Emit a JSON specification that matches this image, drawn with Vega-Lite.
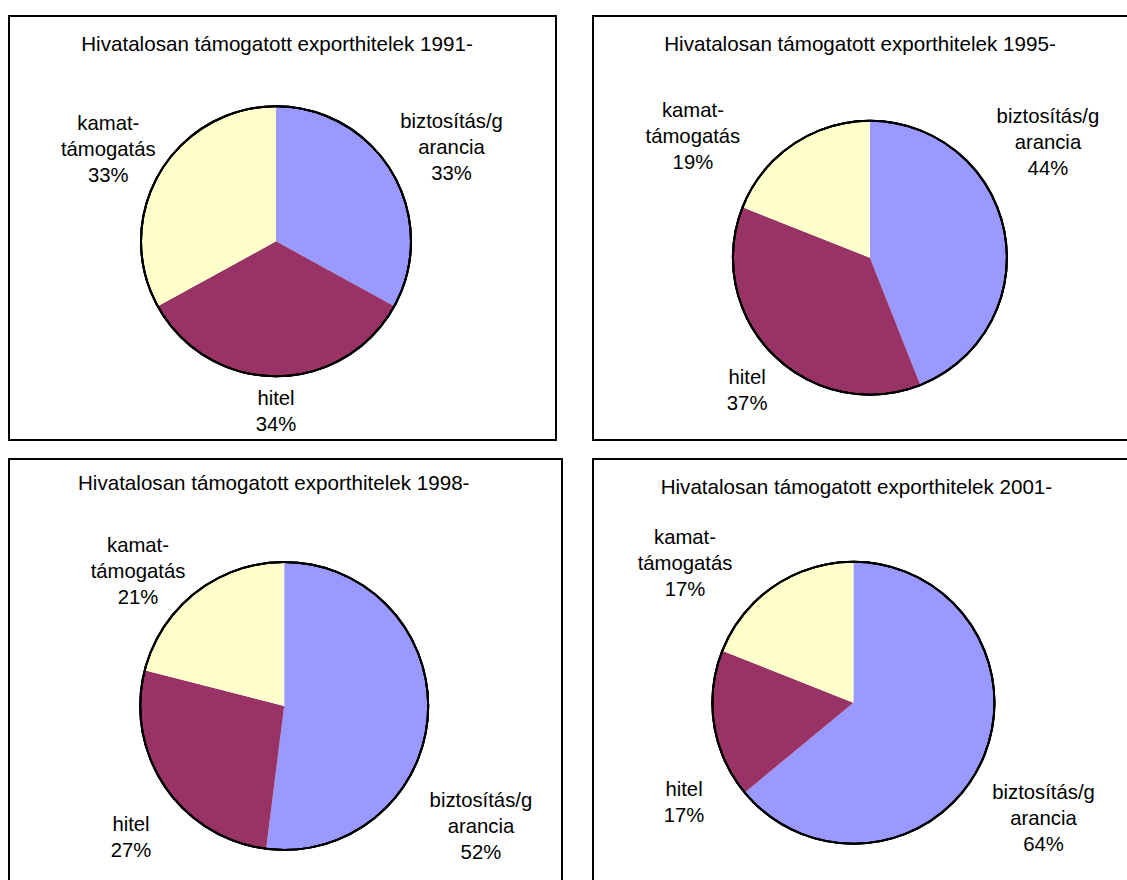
{
  "$schema": "https://vega.github.io/schema/vega-lite/v6.json",
  "background": "white",
  "padding": {"left": 8, "top": 15, "right": 0, "bottom": 0},
  "bounds": "flush",
  "columns": 2,
  "spacing": {"row": 19, "column": 31},
  "config": {
    "view": {"stroke": "black", "strokeWidth": 2},
    "title": {"font": "Liberation Sans", "fontSize": 20.6, "fontWeight": "normal", "color": "black", "anchor": "middle", "baseline": "middle", "frame": "group"},
    "text": {"font": "Liberation Sans", "fontSize": 20.3, "color": "black", "lineBreak": "\n", "lineHeight": 26, "align": "center", "baseline": "middle"},
    "arc": {"stroke": null}
  },
  "datasets": {
    "pies": [
      {"year": "1991", "cat": "biztosítás/garancia", "value": 33, "label": "biztosítás/g\narancia\n33%"},
      {"year": "1991", "cat": "hitel", "value": 34, "label": "hitel\n34%"},
      {"year": "1991", "cat": "kamattámogatás", "value": 33, "label": "kamat-\ntámogatás\n33%"},
      {"year": "1995", "cat": "biztosítás/garancia", "value": 44, "label": "biztosítás/g\narancia\n44%"},
      {"year": "1995", "cat": "hitel", "value": 37, "label": "hitel\n37%"},
      {"year": "1995", "cat": "kamattámogatás", "value": 19, "label": "kamat-\ntámogatás\n19%"},
      {"year": "1998", "cat": "biztosítás/garancia", "value": 52, "label": "biztosítás/g\narancia\n52%"},
      {"year": "1998", "cat": "hitel", "value": 27, "label": "hitel\n27%"},
      {"year": "1998", "cat": "kamattámogatás", "value": 21, "label": "kamat-\ntámogatás\n21%"},
      {"year": "2001", "cat": "biztosítás/garancia", "value": 64, "label": "biztosítás/g\narancia\n64%"},
      {"year": "2001", "cat": "hitel", "value": 17, "label": "hitel\n17%"},
      {"year": "2001", "cat": "kamattámogatás", "value": 19, "label": "kamat-\ntámogatás\n17%"}
    ]
  },
  "concat": [
    {
      "width": 547, "height": 424,
      "title": {"text": "Hivatalosan támogatott exporthitelek 1991-", "offset": -40, "dx": -5.5},
      "data": {"name": "pies"},
      "transform": [{"filter": "datum.year === '1991'"}],
      "encoding": {
        "x": {"datum": 0, "type": "quantitative", "scale": {"domain": [-1, 1]}, "axis": null},
        "y": {"datum": 0, "type": "quantitative", "scale": {"domain": [-1, 1]}, "axis": null}
      },
      "layer": [
        {"mark": {"type": "arc", "outerRadius": 135, "xOffset": -6.5, "yOffset": 13.3},
         "encoding": {"theta": {"field": "value", "type": "quantitative", "stack": true},
                      "order": {"field": "cat"},
                      "color": {"field": "cat", "type": "nominal", "legend": null, "scale": {"domain": ["biztosítás/garancia", "hitel", "kamattámogatás"], "range": ["#9999FF", "#993366", "#FFFFCC"]}}}},
        {"mark": {"type": "arc", "outerRadius": 135, "filled": false, "stroke": "black", "strokeWidth": 2, "xOffset": -6.5, "yOffset": 13.3}},
        {"mark": {"type": "text", "radius": 199, "thetaOffset": 0.044, "dy": -26, "xOffset": -6.5, "yOffset": 13.3},
         "encoding": {"theta": {"field": "value", "type": "quantitative", "stack": true}, "order": {"field": "cat"}, "detail": {"field": "cat"},
                      "text": {"condition": {"test": "datum.cat === 'biztosítás/garancia'", "field": "label"}, "value": ""}}},
        {"mark": {"type": "text", "radius": 171, "thetaOffset": 0, "dy": -13, "xOffset": -6.5, "yOffset": 13.3},
         "encoding": {"theta": {"field": "value", "type": "quantitative", "stack": true}, "order": {"field": "cat"}, "detail": {"field": "cat"},
                      "text": {"condition": {"test": "datum.cat === 'hitel'", "field": "label"}, "value": ""}}},
        {"mark": {"type": "text", "radius": 191, "thetaOffset": -0.035, "dy": -26, "xOffset": -6.5, "yOffset": 13.3},
         "encoding": {"theta": {"field": "value", "type": "quantitative", "stack": true}, "order": {"field": "cat"}, "detail": {"field": "cat"},
                      "text": {"condition": {"test": "datum.cat === 'kamattámogatás'", "field": "label"}, "value": ""}}}
      ]
    },
    {
      "width": 547, "height": 424,
      "title": {"text": "Hivatalosan támogatott exporthitelek 1995-", "offset": -40, "dx": -6.5},
      "data": {"name": "pies"},
      "transform": [{"filter": "datum.year === '1995'"}],
      "encoding": {
        "x": {"datum": 0, "type": "quantitative", "scale": {"domain": [-1, 1]}, "axis": null},
        "y": {"datum": 0, "type": "quantitative", "scale": {"domain": [-1, 1]}, "axis": null}
      },
      "layer": [
        {"mark": {"type": "arc", "outerRadius": 137, "xOffset": 3.4, "yOffset": 29.7},
         "encoding": {"theta": {"field": "value", "type": "quantitative", "stack": true},
                      "order": {"field": "cat"},
                      "color": {"field": "cat", "type": "nominal", "legend": null, "scale": {"domain": ["biztosítás/garancia", "hitel", "kamattámogatás"], "range": ["#9999FF", "#993366", "#FFFFCC"]}}}},
        {"mark": {"type": "arc", "outerRadius": 137, "filled": false, "stroke": "black", "strokeWidth": 2, "xOffset": 3.4, "yOffset": 29.7}},
        {"mark": {"type": "text", "radius": 211.5, "thetaOffset": -0.382, "dy": -26, "xOffset": 3.4, "yOffset": 29.7},
         "encoding": {"theta": {"field": "value", "type": "quantitative", "stack": true}, "order": {"field": "cat"}, "detail": {"field": "cat"},
                      "text": {"condition": {"test": "datum.cat === 'biztosítás/garancia'", "field": "label"}, "value": ""}}},
        {"mark": {"type": "text", "radius": 181, "thetaOffset": -0.04, "dy": -13, "xOffset": 3.4, "yOffset": 29.7},
         "encoding": {"theta": {"field": "value", "type": "quantitative", "stack": true}, "order": {"field": "cat"}, "detail": {"field": "cat"},
                      "text": {"condition": {"test": "datum.cat === 'hitel'", "field": "label"}, "value": ""}}},
        {"mark": {"type": "text", "radius": 214, "thetaOffset": -0.377, "dy": -26, "xOffset": 3.4, "yOffset": 29.7},
         "encoding": {"theta": {"field": "value", "type": "quantitative", "stack": true}, "order": {"field": "cat"}, "detail": {"field": "cat"},
                      "text": {"condition": {"test": "datum.cat === 'kamattámogatás'", "field": "label"}, "value": ""}}}
      ]
    },
    {
      "width": 553, "height": 424,
      "title": {"text": "Hivatalosan támogatott exporthitelek 1998-", "offset": -52, "dx": -11.8},
      "data": {"name": "pies"},
      "transform": [{"filter": "datum.year === '1998'"}],
      "encoding": {
        "x": {"datum": 0, "type": "quantitative", "scale": {"domain": [-1, 1]}, "axis": null},
        "y": {"datum": 0, "type": "quantitative", "scale": {"domain": [-1, 1]}, "axis": null}
      },
      "layer": [
        {"mark": {"type": "arc", "outerRadius": 144, "xOffset": -1.3, "yOffset": 35},
         "encoding": {"theta": {"field": "value", "type": "quantitative", "stack": true},
                      "order": {"field": "cat"},
                      "color": {"field": "cat", "type": "nominal", "legend": null, "scale": {"domain": ["biztosítás/garancia", "hitel", "kamattámogatás"], "range": ["#9999FF", "#993366", "#FFFFCC"]}}}},
        {"mark": {"type": "arc", "outerRadius": 144, "filled": false, "stroke": "black", "strokeWidth": 2, "xOffset": -1.3, "yOffset": 35}},
        {"mark": {"type": "text", "radius": 231, "thetaOffset": 0.489, "dy": -26, "xOffset": -1.3, "yOffset": 35},
         "encoding": {"theta": {"field": "value", "type": "quantitative", "stack": true}, "order": {"field": "cat"}, "detail": {"field": "cat"},
                      "text": {"condition": {"test": "datum.cat === 'biztosítás/garancia'", "field": "label"}, "value": ""}}},
        {"mark": {"type": "text", "radius": 202, "thetaOffset": -0.113, "dy": -13, "xOffset": -1.3, "yOffset": 35},
         "encoding": {"theta": {"field": "value", "type": "quantitative", "stack": true}, "order": {"field": "cat"}, "detail": {"field": "cat"},
                      "text": {"condition": {"test": "datum.cat === 'hitel'", "field": "label"}, "value": ""}}},
        {"mark": {"type": "text", "radius": 198, "thetaOffset": -0.171, "dy": -26, "xOffset": -1.3, "yOffset": 35},
         "encoding": {"theta": {"field": "value", "type": "quantitative", "stack": true}, "order": {"field": "cat"}, "detail": {"field": "cat"},
                      "text": {"condition": {"test": "datum.cat === 'kamattámogatás'", "field": "label"}, "value": ""}}}
      ]
    },
    {
      "width": 547, "height": 424,
      "title": {"text": "Hivatalosan támogatott exporthitelek 2001-", "offset": -40, "dx": -10.1},
      "data": {"name": "pies"},
      "transform": [{"filter": "datum.year === '2001'"}],
      "encoding": {
        "x": {"datum": 0, "type": "quantitative", "scale": {"domain": [-1, 1]}, "axis": null},
        "y": {"datum": 0, "type": "quantitative", "scale": {"domain": [-1, 1]}, "axis": null}
      },
      "layer": [
        {"mark": {"type": "arc", "outerRadius": 141, "xOffset": -13.1, "yOffset": 31.7},
         "encoding": {"theta": {"field": "value", "type": "quantitative", "stack": true},
                      "order": {"field": "cat"},
                      "color": {"field": "cat", "type": "nominal", "legend": null, "scale": {"domain": ["biztosítás/garancia", "hitel", "kamattámogatás"], "range": ["#9999FF", "#993366", "#FFFFCC"]}}}},
        {"mark": {"type": "arc", "outerRadius": 141, "filled": false, "stroke": "black", "strokeWidth": 2, "xOffset": -13.1, "yOffset": 31.7}},
        {"mark": {"type": "text", "radius": 223, "thetaOffset": 0.11, "dy": -26, "xOffset": -13.1, "yOffset": 31.7},
         "encoding": {"theta": {"field": "value", "type": "quantitative", "stack": true}, "order": {"field": "cat"}, "detail": {"field": "cat"},
                      "text": {"condition": {"test": "datum.cat === 'biztosítás/garancia'", "field": "label"}, "value": ""}}},
        {"mark": {"type": "text", "radius": 197, "thetaOffset": -0.379, "dy": -13, "xOffset": -13.1, "yOffset": 31.7},
         "encoding": {"theta": {"field": "value", "type": "quantitative", "stack": true}, "order": {"field": "cat"}, "detail": {"field": "cat"},
                      "text": {"condition": {"test": "datum.cat === 'hitel'", "field": "label"}, "value": ""}}},
        {"mark": {"type": "text", "radius": 218, "thetaOffset": -0.286, "dy": -26, "xOffset": -13.1, "yOffset": 31.7},
         "encoding": {"theta": {"field": "value", "type": "quantitative", "stack": true}, "order": {"field": "cat"}, "detail": {"field": "cat"},
                      "text": {"condition": {"test": "datum.cat === 'kamattámogatás'", "field": "label"}, "value": ""}}}
      ]
    }
  ]
}
